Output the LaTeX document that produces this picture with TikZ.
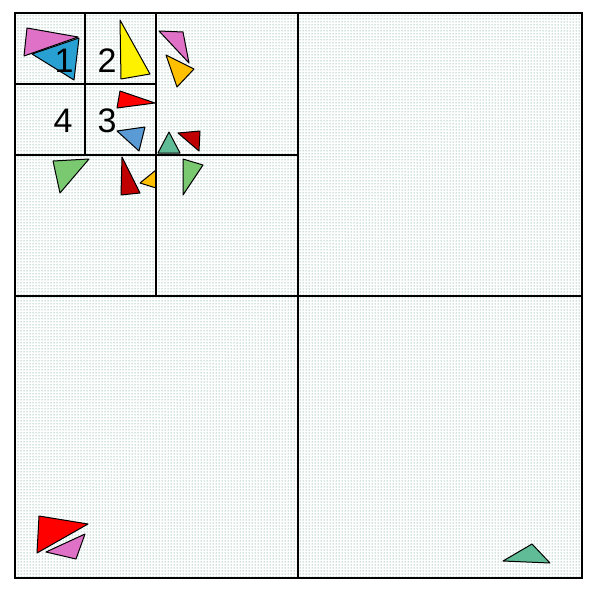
\documentclass[tikz,border=0pt]{standalone}
\usepackage{fontspec}
\setmainfont{Liberation Sans}
\usetikzlibrary{patterns}
\definecolor{orchidpink}{RGB}{223,113,198}
\definecolor{cellblue}{RGB}{41,160,210}
\definecolor{softblue}{RGB}{91,155,213}
\definecolor{amber}{RGB}{255,192,0}
\definecolor{seateal}{RGB}{96,188,150}
\definecolor{darkred}{RGB}{192,0,0}
\definecolor{leafgreen}{RGB}{122,200,112}
\definecolor{dotcolor}{RGB}{60,135,115}

\begin{document}
\begin{tikzpicture}[
        x=1pt, y=-1pt,
        % Gitterlinien
        cell/.style={draw, line width=2.4pt},
        % Dreiecke
        tri/.style={draw, line width=1pt, line join=round},
        % Nummern der Zellen
        num/.style={font=\fontsize{34}{34}\selectfont, inner sep=0pt}
    ]
    \useasboundingbox (0,0) rectangle (597,589);

    % Hintergrund mit Punktmuster
    \fill[pattern=dots, pattern color=dotcolor] (15,13) rectangle (582,578);

    % Dreiecke
    \filldraw[tri, fill=orchidpink] (27,28) -- (78,37) -- (24,56) -- cycle;
    \filldraw[tri, fill=cellblue] (32,54) -- (79,38) -- (74,80) -- cycle;
    \filldraw[tri, fill=yellow] (120,20) -- (150,74) -- (121,79) -- cycle;
    \filldraw[tri, fill=red] (120,91) -- (155,103) -- (117,108) -- cycle;
    \filldraw[tri, fill=softblue] (117,131) -- (145,127) -- (139,151) -- cycle;
    \filldraw[tri, fill=orchidpink] (159,31) -- (183,32) -- (189,63) -- cycle;
    \filldraw[tri, fill=amber] (166,55) -- (194,69) -- (177,87) -- cycle;
    \filldraw[tri, fill=seateal] (158,153) -- (169,132) -- (180,153) -- cycle;
    \filldraw[tri, fill=darkred] (178,133) -- (200,131) -- (199,151) -- cycle;
    \filldraw[tri, fill=darkred] (122,157) -- (140,193) -- (121,195) -- cycle;
    \filldraw[tri, fill=amber] (156,170) -- (156,188) -- (140,183) -- cycle;
    \filldraw[tri, fill=leafgreen] (183,159) -- (203,165) -- (183,195) -- cycle;
    \filldraw[tri, fill=leafgreen] (53,161) -- (89,159) -- (60,193) -- cycle;
    \filldraw[tri, fill=red] (39,516) -- (88,524) -- (37,553) -- cycle;
    \filldraw[tri, fill=orchidpink] (85,534) -- (76,559) -- (46,552) -- cycle;
    \filldraw[tri, fill=seateal] (503,561) -- (532,544) -- (550,563) -- cycle;

    % Gitter
    \draw[cell] (15,13) rectangle (582,578);
    \draw[cell] (298,13) -- (298,578);
    \draw[cell] (15,296) -- (582,296);
    \draw[cell] (156,13) -- (156,296);
    \draw[cell] (15,155) -- (298,155);
    \draw[cell] (85,13) -- (85,155);
    \draw[cell] (15,84) -- (156,84);

    % Nummern
    \node[num] (n1) at (64,61) {1};
    \node[num] (n2) at (107,61) {2};
    \node[num] (n3) at (107,121) {3};
    \node[num] (n4) at (63,121) {4};

\end{tikzpicture}
\end{document}
